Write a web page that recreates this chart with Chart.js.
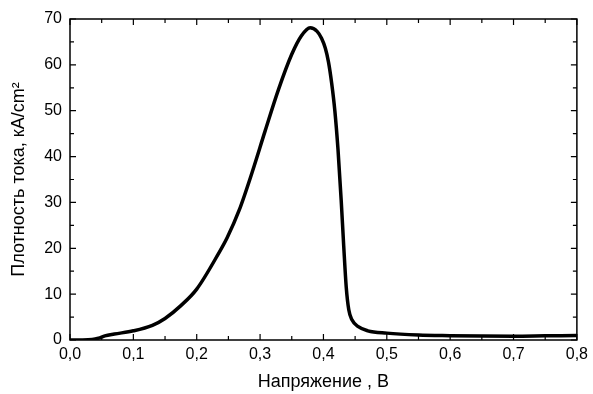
<!DOCTYPE html>
<html>
<head>
<meta charset="utf-8">
<script src="https://cdn.jsdelivr.net/npm/chart.js@4"></script>
<style>
  html, body { margin: 0; padding: 0; background: #fff; }
  #wrap { width: 593px; height: 394px; }
</style>
</head>
<body>
<div id="wrap"><canvas id="chart" width="593" height="394"></canvas></div>
<script>
// voltage, V
const voltage = [0, 0.02, 0.035, 0.045, 0.055, 0.07, 0.1, 0.13, 0.15, 0.175, 0.2, 0.235, 0.248,
  0.267, 0.288, 0.308, 0.329, 0.35, 0.365, 0.379, 0.39, 0.397, 0.403, 0.408, 0.413, 0.418, 0.423,
  0.428, 0.432, 0.436, 0.44, 0.445, 0.455, 0.47, 0.5, 0.55, 0.6, 0.65, 0.7, 0.75, 0.8];
// current density, kA/cm2
const current = [0, 0, 0.1, 0.4, 0.9, 1.3, 2.0, 3.2, 4.7, 7.5, 11.1, 19.0, 22.3,
  28.3, 36.8, 45.6, 54.6, 62.3, 66.3, 68.1, 67.3, 65.8, 63.6, 60.6, 56.0, 50.0, 41.5,
  30.5, 20.5, 11.5, 6.6, 4.4, 2.9, 2.0, 1.5, 1.1, 0.95, 0.85, 0.8, 0.9, 1.0];

const xTickLabels = ['0,0', '0,1', '0,2', '0,3', '0,4', '0,5', '0,6', '0,7', '0,8'];
const yTickLabels = ['0', '10', '20', '30', '40', '50', '60', '70'];

const xTitle = 'Напряжение , В';
const yTitle = 'Плотность тока, кA/cm²';

const points = voltage.map((v, i) => ({ x: v, y: current[i] }));

// frame plus inward ticks on all four sides
const frameTicks = {
  id: 'frameTicks',
  afterDraw(chart) {
    const ctx = chart.ctx;
    const a = chart.chartArea;
    const xs = chart.scales.x, ys = chart.scales.y;
    ctx.save();
    ctx.strokeStyle = '#000';
    ctx.lineWidth = 1.5;
    ctx.strokeRect(a.left, a.top, a.right - a.left, a.bottom - a.top);
    ctx.lineWidth = 1.2;
    ctx.beginPath();
    for (let k = 0; k <= 16; k++) {
      const px = xs.getPixelForValue(k * 0.05);
      const len = k % 2 === 0 ? 6 : 4;
      ctx.moveTo(px, a.bottom); ctx.lineTo(px, a.bottom - len);
      ctx.moveTo(px, a.top); ctx.lineTo(px, a.top + len);
    }
    for (let k = 0; k <= 14; k++) {
      const py = ys.getPixelForValue(k * 5);
      const len = k % 2 === 0 ? 6 : 4;
      ctx.moveTo(a.left, py); ctx.lineTo(a.left + len, py);
      ctx.moveTo(a.right, py); ctx.lineTo(a.right - len, py);
    }
    ctx.stroke();
    ctx.restore();
  }
};

const family = '"Liberation Sans", Arial, sans-serif';
const tickFont = { family: family, size: 16 };
const titleFont = { family: family, size: 18 };

new Chart(document.getElementById('chart'), {
  type: 'line',
  data: {
    datasets: [{
      data: points,
      borderColor: '#000',
      borderWidth: 3.5,
      pointRadius: 0,
      fill: false,
      cubicInterpolationMode: 'monotone'
    }]
  },
  options: {
    responsive: false,
    animation: false,
    layout: { padding: { left: 0, right: 13, top: 19, bottom: 0 } },
    plugins: { legend: { display: false }, tooltip: { enabled: false } },
    scales: {
      x: {
        type: 'linear',
        min: 0, max: 0.8,
        grid: { display: false, drawTicks: false },
        border: { display: false },
        ticks: {
          stepSize: 0.1,
          color: '#000',
          font: tickFont,
          padding: 5,
          maxRotation: 0,
          callback: (v) => xTickLabels[Math.round(v * 10)]
        },
        title: { display: true, text: xTitle, color: '#000', font: titleFont, padding: { top: 0, bottom: 1 } },
        afterFit: (s) => { s.height = 54; }
      },
      y: {
        min: 0, max: 70,
        grid: { display: false, drawTicks: false },
        border: { display: false },
        ticks: {
          stepSize: 10,
          color: '#000',
          font: tickFont,
          padding: 8,
          callback: (v) => yTickLabels[Math.round(v / 10)]
        },
        title: { display: true, text: yTitle, color: '#000', font: titleFont, padding: { top: 8, bottom: 0 } },
        afterFit: (s) => { s.width = 70; }
      }
    }
  },
  plugins: [frameTicks]
});
</script>
</body>
</html>
